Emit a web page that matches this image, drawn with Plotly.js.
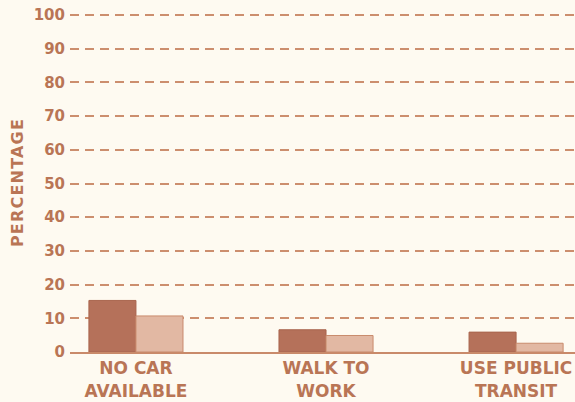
<!DOCTYPE html>
<html>
<head>
<meta charset="utf-8">
<script src="https://cdn.plot.ly/plotly-3.0.1.min.js"></script>
<style>
  html, body { margin: 0; padding: 0; background: #fefaf1; }
  #chart { width: 575px; height: 402px; }
  .ytitle { letter-spacing: 1.2px; }
</style>
</head>
<body>
<div id="chart"></div>
<script>
const categories = ["NO CAR<br>AVAILABLE", "WALK TO<br>WORK", "USE PUBLIC<br>TRANSIT"];
const seriesDark = [15.3, 6.6, 5.9];
const seriesLight = [10.7, 4.9, 2.6];
const tickValues = [0, 10, 20, 30, 40, 50, 60, 70, 80, 90, 100];
const yTitle = "PERCENTAGE";

const textColor = "#b97555";
const fontFam = "DejaVu Sans, sans-serif";

const traces = [
  {
    type: "bar",
    x: categories,
    y: seriesDark,
    marker: { color: "#b5715a", line: { color: "#a9654e", width: 1 } },
    hoverinfo: "skip"
  },
  {
    type: "bar",
    x: categories,
    y: seriesLight,
    marker: { color: "#e2b8a3", line: { color: "#c98b6d", width: 1 } },
    hoverinfo: "skip"
  }
];

const layout = {
  width: 575,
  height: 402,
  margin: { l: 70, r: 0, t: 13, b: 50, pad: 0 },
  paper_bgcolor: "#fefaf1",
  plot_bgcolor: "#fefaf1",
  showlegend: false,
  barmode: "group",
  bargap: 0.505,
  bargroupgap: 0,
  xaxis: {
    type: "category",
    range: [-0.347, 2.31],
    showgrid: false,
    zeroline: false,
    showline: true,
    linecolor: "#c98a6a",
    linewidth: 2,
    ticks: "",
    tickfont: { family: fontFam, size: 17, color: textColor, weight: "bold" },
    fixedrange: true
  },
  yaxis: {
    range: [0, 100.6],
    tickvals: tickValues,
    ticktext: tickValues.map(String),
    showgrid: true,
    gridcolor: "#cc8e6e",
    gridwidth: 2,
    griddash: "9px,6px",
    zeroline: false,
    showline: false,
    ticks: "",
    ticklabelstandoff: 4,
    tickfont: { family: fontFam, size: 15, color: textColor, weight: "bold" },
    title: {
      text: yTitle,
      font: { family: fontFam, size: 16, color: textColor, weight: "bold" },
      standoff: 6
    },
    fixedrange: true
  }
};

Plotly.newPlot("chart", traces, layout, { displayModeBar: false, staticPlot: true });
</script>
</body>
</html>
